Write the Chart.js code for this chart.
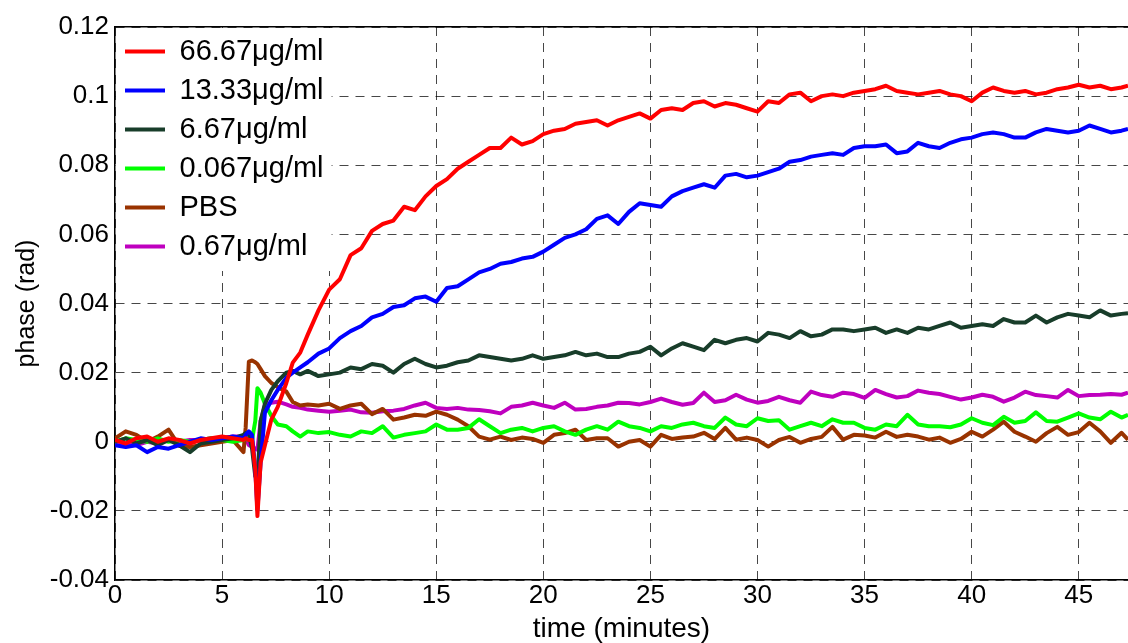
<!DOCTYPE html>
<html>
<head>
<meta charset="utf-8">
<script src="https://cdn.jsdelivr.net/npm/chart.js@4"></script>
<style>
  body { margin: 0; background: #fff; }
  canvas { display: block; }
</style>
</head>
<body>
<canvas id="myChart" width="1128" height="643"></canvas>
<script>
// time axis (minutes)
const time = [0,0.5,1,1.5,2,2.5,3,3.5,4,4.5,5,5.5,6,6.1,6.25,6.4,6.55,6.65,6.8,7,7.3,7.6,8,8.3,8.65,9,
  9.5,10,10.5,11,11.5,12,12.5,13,13.5,14,14.5,15,15.5,16,16.5,17,17.5,18,18.5,19,19.5,20,
  20.5,21,21.5,22,22.5,23,23.5,24,24.5,25,25.5,26,26.5,27,27.5,28,28.5,29,29.5,30,
  30.5,31,31.5,32,32.5,33,33.5,34,34.5,35,35.5,36,36.5,37,37.5,38,38.5,39,39.5,40,
  40.5,41,41.5,42,42.5,43,43.5,44,44.5,45,45.5,46,46.5,47,47.3];

const labels = ['66.67\u03bcg/ml', '13.33\u03bcg/ml', '6.67\u03bcg/ml', '0.067\u03bcg/ml', 'PBS', '0.67\u03bcg/ml'];

// phase (rad)
const c6667 = [0.0005,-0.0005,0.001,0.0015,0,0.001,0.0005,-0.0005,0.0005,0.001,0.0015,0.001,0.0005,0.001,0.0005,0.0005,-0.008,-0.0215,-0.006,-0.001,0.0064,0.0101,0.017,0.0229,0.0258,0.031,
  0.038,0.044,0.047,0.054,0.056,0.061,0.063,0.064,0.068,0.067,0.071,0.074,0.076,0.079,0.081,0.083,0.085,0.085,0.088,0.086,0.087,0.089,
  0.090,0.0905,0.092,0.0925,0.093,0.0915,0.093,0.094,0.095,0.0935,0.096,0.0965,0.096,0.098,0.0985,0.097,0.098,0.0975,0.0965,0.0955,
  0.0985,0.098,0.1005,0.101,0.0985,0.100,0.1005,0.100,0.101,0.1015,0.102,0.103,0.1015,0.101,0.1005,0.101,0.1015,0.1005,0.100,0.0985,
  0.101,0.1025,0.1015,0.101,0.1015,0.1005,0.101,0.102,0.1025,0.1033,0.1025,0.103,0.102,0.1025,0.103];
const c1333 = [-0.001,-0.0015,-0.001,-0.003,-0.0015,-0.002,-0.001,0,0.001,0.0005,0.001,0.0015,0.001,0.002,0.003,0.002,-0.008,-0.0197,-0.006,0.0084,0.012,0.015,0.0185,0.02,0.0215,0.023,
  0.0255,0.027,0.030,0.032,0.0335,0.036,0.037,0.039,0.0395,0.0415,0.042,0.0405,0.0445,0.045,0.047,0.049,0.050,0.0515,0.052,0.053,0.0535,0.055,
  0.057,0.059,0.060,0.0615,0.0645,0.0655,0.063,0.0665,0.069,0.0685,0.068,0.071,0.0725,0.0735,0.0745,0.0735,0.077,0.0775,0.0765,0.077,
  0.078,0.079,0.081,0.0815,0.0825,0.083,0.0835,0.083,0.085,0.0855,0.0855,0.086,0.0835,0.084,0.0865,0.0855,0.085,0.0865,0.0875,0.088,
  0.089,0.0895,0.089,0.088,0.088,0.0895,0.0905,0.090,0.0895,0.090,0.0915,0.0905,0.0895,0.090,0.0905];
const c667 = [0,0.001,-0.0005,0.0005,-0.001,0.0005,-0.001,-0.003,-0.0005,0,0.0005,0.001,0.002,0.0025,0.002,-0.002,-0.010,-0.011,0.006,0.011,0.015,0.0175,0.020,0.0205,0.0195,0.0205,
  0.019,0.0195,0.020,0.0215,0.021,0.0225,0.022,0.020,0.0225,0.024,0.0225,0.0215,0.022,0.023,0.0235,0.025,0.0245,0.024,0.0235,0.024,0.025,0.024,
  0.0245,0.025,0.026,0.025,0.0255,0.0245,0.0245,0.0255,0.026,0.0275,0.025,0.027,0.0285,0.0275,0.0265,0.0295,0.0285,0.0295,0.030,0.029,
  0.0315,0.031,0.030,0.032,0.0305,0.031,0.0325,0.0325,0.032,0.0325,0.033,0.0315,0.0325,0.0315,0.033,0.0325,0.0335,0.0345,0.033,0.0335,
  0.034,0.0335,0.0355,0.0345,0.0345,0.0365,0.0345,0.036,0.037,0.0365,0.036,0.038,0.0365,0.037,0.0372];
const c0067 = [0,0.001,0.0005,0,0.001,0,0.0005,0,0.0005,0.001,0.0005,0,0.0005,0.001,0.0005,0.0006,0.006,0.0155,0.0142,0.011,0.0075,0.005,0.0045,0.003,0.0015,0.003,
  0.0025,0.0028,0.002,0.0015,0.003,0.0025,0.0045,0.0012,0.002,0.0025,0.003,0.005,0.0035,0.0035,0.004,0.0065,0.0045,0.0025,0.0035,0.004,0.003,0.004,
  0.0045,0.003,0.002,0.0035,0.0045,0.0035,0.0058,0.0045,0.004,0.003,0.0045,0.004,0.005,0.0055,0.0045,0.004,0.007,0.005,0.0045,0.0068,
  0.006,0.0062,0.0035,0.0045,0.0055,0.0045,0.0065,0.0055,0.0055,0.004,0.0035,0.005,0.0045,0.0078,0.005,0.0045,0.0045,0.0042,0.005,0.0068,
  0.0055,0.0048,0.0072,0.0055,0.006,0.0085,0.006,0.0058,0.007,0.0082,0.007,0.0065,0.0087,0.007,0.0078];
const pbs = [0.001,0.003,0.002,0,0.0015,0.0035,-0.0012,-0.0015,-0.001,-0.0005,0,0.0005,-0.003,0.004,0.0232,0.0235,0.023,0.0225,0.021,0.019,0.017,0.0158,0.0145,0.0115,0.0105,0.0108,
  0.0105,0.011,0.0095,0.0105,0.011,0.008,0.0095,0.0064,0.007,0.0078,0.0075,0.0087,0.0078,0.0064,0.0045,0.0015,0.0006,0.0015,0.0005,0.0012,0.0008,-0.0003,
  0.002,0.0025,0.0035,0.0005,0.001,0.001,-0.0014,0,0.0005,-0.0014,0.002,0.0008,0.0012,0.0015,0.0026,0.0008,0.004,0.0006,0.0012,0.0005,
  -0.0014,0.0005,0.0014,-0.0003,0.0008,0.0014,0.0043,0.0006,0.002,0.0018,0.0012,0.0029,0.0014,0.002,0.0015,0.0006,0.0012,-0.0003,0.0008,0.0029,
  0.0015,0.0035,0.0058,0.0029,0.0015,0,0.0025,0.0043,0.002,0.0028,0.0055,0.003,-0.0003,0.0026,0.0006];
const c067 = [-0.001,-0.0005,-0.001,0,-0.0005,0.0005,0,0.0005,0.0005,0.001,0.001,0.0015,0.0015,0.001,-0.001,-0.0014,-0.002,-0.0023,0.006,0.0105,0.0113,0.0116,0.0108,0.0101,0.0098,0.0093,
  0.009,0.0087,0.009,0.0093,0.0085,0.0084,0.0088,0.009,0.0095,0.0105,0.0113,0.0098,0.0095,0.0098,0.0093,0.0092,0.0088,0.0082,0.0101,0.0105,0.0113,0.0105,
  0.0098,0.0113,0.0093,0.0095,0.0101,0.0105,0.0113,0.0112,0.0108,0.0115,0.0125,0.0115,0.0107,0.0112,0.0142,0.0115,0.012,0.0136,0.0122,0.0113,
  0.0118,0.013,0.012,0.0113,0.0145,0.0135,0.013,0.0142,0.0138,0.0127,0.015,0.0138,0.0128,0.0132,0.0148,0.0142,0.0138,0.013,0.0122,0.0128,
  0.0136,0.013,0.0116,0.0128,0.0145,0.0135,0.0132,0.0128,0.015,0.0132,0.0135,0.0136,0.0138,0.0136,0.0142];

const series = [c6667, c1333, c667, c0067, pbs, c067];
const colors = ['#ff0000', '#0000ff', '#183d2a', '#00ff00', '#993300', '#bf00bf'];

Chart.defaults.font.family = '"Liberation Sans", Arial, sans-serif';
Chart.defaults.color = '#000';

// legend sits inside the plot, top-left, on a white box so the grid does not run through it
const legendBox = {
  id: 'legendBox',
  afterUpdate(chart) {
    const lg = chart.legend;
    const d = chart.chartArea.top - lg.top;
    lg.top += d;
    lg.bottom += d;
    lg.legendHitBoxes.forEach(b => { b.top += d; });
  },
  beforeDatasetsDraw(chart) {
    const lg = chart.legend;
    const boxes = lg.legendHitBoxes;
    if (!boxes || !boxes.length) return;
    const ctx = chart.ctx;
    const area = chart.chartArea;
    const right = Math.max(...boxes.map(b => b.left + b.width)) + 8;
    const last = boxes[boxes.length - 1];
    const bottom = last.top + last.height + 10;
    ctx.save();
    ctx.fillStyle = '#fff';
    ctx.fillRect(area.left + 1, area.top + 1, right - area.left - 1, bottom - area.top - 1);
    ctx.restore();
    lg.draw();
  }
};

const gridStyle = { color: 'rgba(0,0,0,0.72)', lineWidth: 1, drawTicks: false };

const ctx = document.getElementById('myChart').getContext('2d');
new Chart(ctx, {
  type: 'line',
  data: {
    datasets: series.map((s, k) => ({
      label: labels[k],
      data: time.map((t, i) => ({ x: t, y: s[i] })),
      borderColor: colors[k],
      backgroundColor: colors[k],
      borderWidth: 4,
      pointRadius: 0,
      tension: 0,
      borderJoinStyle: 'round',
      fill: false
    }))
  },
  options: {
    responsive: false,
    animation: false,
    devicePixelRatio: 1,
    layout: { padding: 0 },
    scales: {
      x: {
        type: 'linear',
        position: 'bottom',
        min: 0,
        max: 47.3,
        grid: gridStyle,
        border: { display: true, color: '#000', width: 1.5, dash: [9, 7] },
        ticks: { stepSize: 5, includeBounds: false, padding: 0, font: { size: 26 } },
        title: { display: true, text: 'time (minutes)', font: { size: 28, lineHeight: 1 }, padding: 0 },
        afterFit(scale) { scale.height = 63; }
      },
      x2: {
        type: 'linear',
        position: 'top',
        min: 0,
        max: 47.3,
        grid: { display: false, drawTicks: false },
        border: { display: true, color: '#000', width: 1.5 },
        ticks: { display: false },
        afterFit(scale) { scale.height = 27; }
      },
      y: {
        min: -0.04,
        max: 0.12,
        grid: gridStyle,
        border: { display: true, color: '#000', width: 1.5, dash: [9, 7] },
        ticks: {
          stepSize: 0.02,
          padding: 6,
          font: { size: 26 },
          callback: v => String(+v.toFixed(3))
        },
        title: { display: true, text: 'phase (rad)', font: { size: 25, lineHeight: 1 }, padding: { top: 15, bottom: 0 } },
        afterFit(scale) { scale.width = 115; }
      }
    },
    plugins: {
      legend: {
        position: 'chartArea',
        align: 'start',
        labels: {
          usePointStyle: true,
          pointStyle: 'line',
          pointStyleWidth: 40,
          padding: 10,
          color: '#000',
          font: { size: 29 }
        }
      },
      tooltip: { enabled: false }
    }
  },
  plugins: [legendBox]
});
</script>
</body>
</html>
